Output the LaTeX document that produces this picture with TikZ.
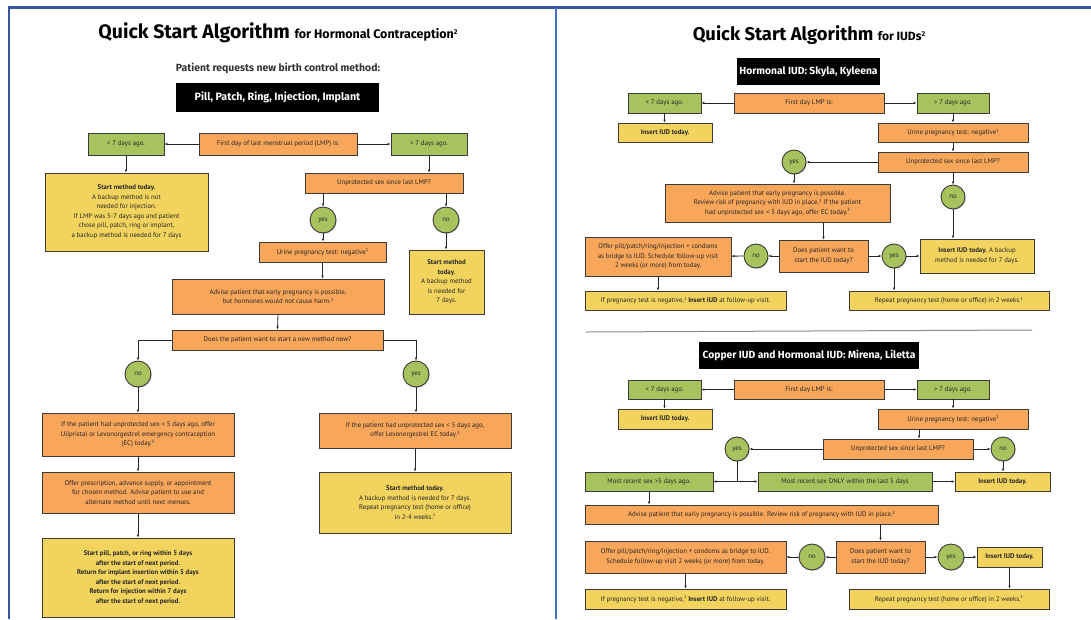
\documentclass[tikz,border=0pt]{standalone}
\usepackage{fontspec}
\setmainfont{PT Sans}
\newfontfamily\headfont{Fira Sans}
\usetikzlibrary{arrows.meta,shadows}
\definecolor{boxorange}{HTML}{F7A65A}
\definecolor{boxgreen}{HTML}{A8C25E}
\definecolor{boxyellow}{HTML}{F2D35E}
\definecolor{boxline}{HTML}{3A3A3A}
\definecolor{frameblue}{HTML}{3456A0}
\definecolor{divblue}{HTML}{4472C4}
\newcommand\fnote[1]{\raisebox{0.7ex}{\fontsize{4.5}{5}\selectfont #1}}
\tikzset{
  cell/.style={draw=boxline, line width=0.9pt, align=center, inner sep=1pt, text=black!85,
    font=\fontsize{6.8}{9.5}\selectfont,
    drop shadow={shadow xshift=0.8pt, shadow yshift=-0.8pt, fill=black!45}},
  obox/.style={cell, fill=boxorange},
  gbox/.style={cell, fill=boxgreen},
  ybox/.style={cell, fill=boxyellow},
  kbox/.style={fill=black, text=white, inner sep=0pt, font=\headfont\bfseries\fontsize{10.3}{12}\selectfont},
  yn/.style={cell, circle, fill=boxgreen, inner sep=0pt, minimum size=#1pt},
  yn/.default=24,
  wh/.style 2 args={minimum width=#1pt, minimum height=#2pt},
  arr/.style={-{Latex[length=3pt,width=2.6pt]}, line width=0.8pt, draw=black!85},
  link/.style={line width=0.8pt, draw=black!85},
}
\begin{document}
\begin{tikzpicture}[x=1pt,y=-1pt]
\useasboundingbox (0,0) rectangle (1091,619);
% page frame
\draw[line width=3pt, frameblue] (8,7) -- (1091,7);
\draw[line width=2.5pt, frameblue] (9,7) -- (9,619);
\draw[line width=1.2pt, divblue] (556,8) -- (556,619);

% hormonal contraception
\node (ttlA) at (278,33) {\headfont\bfseries\fontsize{19.5}{22}\selectfont Quick Start Algorithm \fontsize{12.5}{14}\selectfont for Hormonal Contraception\raisebox{0.6ex}{\fontsize{7}{7}\selectfont 2}};
\node[text=black!80] (req) at (278,68) {\headfont\bfseries\fontsize{10.4}{12}\selectfont Patient requests new birth control method:};
\node[kbox, wh={203}{29}, font=\headfont\bfseries\fontsize{10.7}{12}\selectfont] (pill) at (277.5,97.5) {Pill, Patch, Ring, Injection, Implant};
\node[gbox, wh={76}{22}] (lt) at (126,144) {< 7 days ago.};
\node[obox, wh={158}{22}] (lmp) at (278,144) {First day of last menstrual period (LMP) is:};
\node[gbox, wh={76}{22}] (gt) at (429,144) {> 7 days ago.};
\node[ybox, wh={163}{78}] (startA) at (126.5,212) {\textbf{Start method today.}\\A backup method is not\\needed for injection.\\If LMP was 5-7 days ago and patient\\chose pill, patch, ring or implant,\\a backup method is needed for 7 days};
\node[obox, wh={158}{20}] (unprot) at (384,183) {Unprotected sex since last LMP?};
\node[yn=26] (yesA) at (323,220) {yes};
\node[yn=26] (noA) at (446,220) {no};
\node[obox, wh={127}{20}] (urine) at (322.5,252) {Urine pregnancy test: negative\fnote{1}};
\node[obox, wh={212}{35}] (advise) at (278,296.5) {Advise patient that early pregnancy is possible,\\but hormones would not cause harm.\fnote{2}};
\node[ybox, wh={75}{64}] (startB) at (446.5,282) {\textbf{Start method}\\\textbf{today.}\\A backup method\\is needed for\\7 days.};
\node[obox, wh={211}{20}] (want) at (277.5,340) {Does the patient want to start a new method now?};
\node[yn=26] (noB) at (138,374) {no};
\node[yn=26] (yesB) at (416,374) {yes};
\node[obox, wh={192}{43}] (ecNo) at (138,434.5) {If the patient had unprotected sex < 5 days ago, offer\\Ulipristal or Levonorgestrel emergency contraception\\(EC) today.\fnote{3}};
\node[obox, wh={192}{35}] (ecYes) at (415,430.5) {If the patient had unprotected sex < 5 days ago,\\offer Levonorgestrel EC today.\fnote{3}};
\node[obox, wh={192}{41}] (offer) at (138,492.5) {Offer prescription, advance supply, or appointment\\for chosen method. Advise patient to use and\\alternate method until next menses.};
\node[ybox, wh={192}{79}, font=\bfseries\fontsize{6.8}{9.5}\selectfont] (nextP) at (138,577.5) {Start pill, patch, or ring within 5 days\\after the start of next period.\\Return for implant insertion within 5 days\\after the start of next period.\\Return for injection within 7 days\\after the start of next period.};
\node[ybox, wh={192}{61}] (startC) at (415,502.5) {\textbf{Start method today.}\\A backup method is needed for 7 days.\\Repeat pregnancy test (home or office)\\in 2-4 weeks.\fnote{1}};

\draw[arr] (lmp) -- (lt);
\draw[arr] (lmp) -- (gt);
\draw[arr] (lt.south) -- (lt.south |- startA.north);
\draw[arr] (gt.south) -- (gt.south |- unprot.north);
\draw[arr] (yesA |- unprot.south) -- (yesA);
\draw[arr] (noA |- unprot.south) -- (noA);
\draw[arr] (yesA) -- (yesA |- urine.north);
\draw[arr] (urine.south) -- (urine.south |- advise.north);
\draw[arr] (noA) -- (noA |- startB.north);
\draw[arr] (advise.south) -- (want.north);
\draw[arr] (want.west) -| (noB);
\draw[arr] (want.east) -| (yesB);
\draw[arr] (noB) -- (ecNo);
\draw[arr] (yesB) -- (yesB |- ecYes.north);
\draw[arr] (ecNo) -- (offer);
\draw[arr] (offer) -- (nextP);
\draw[arr] (ecYes) -- (startC);

% hormonal IUD
\node (ttlB) at (809,35) {\headfont\bfseries\fontsize{18.4}{21}\selectfont Quick Start Algorithm \fontsize{12}{14}\selectfont for IUDs\raisebox{0.6ex}{\fontsize{7}{7}\selectfont 2}};
\node[kbox, wh={143}{27}] (hHead) at (808.5,71.5) {Hormonal IUD: Skyla, Kyleena};
\node[gbox, wh={73}{20}] (hLt) at (664.5,103) {< 7 days ago.};
\node[obox, wh={150}{20}] (hLmp) at (809,103) {First day LMP is:};
\node[gbox, wh={72}{20}] (hGt) at (953,103) {> 7 days ago.};
\node[ybox, wh={94}{19}] (hIns) at (665,132.5) {\textbf{Insert IUD today.}};
\node[obox, wh={150}{19}] (hUrine) at (953,132.5) {Urine pregnancy test: negative\fnote{1}};
\node[obox, wh={150}{20}] (hUnprot) at (953,162) {Unprotected sex since last LMP?};
\node[yn] (hYes) at (794,162) {yes};
\node[yn] (hNo) at (953,197) {no};
\node[obox, wh={225}{38}] (hAdvise) at (777.5,203) {Advise patient that early pregnancy is possible.\\Review risk of pregnancy with IUD in place.\fnote{2} If the patient\\had unprotected sex < 5 days ago, offer EC today.\fnote{3}};
\node[obox, wh={89}{32}] (hWant) at (823.5,256) {Does patient want to\\start the IUD today?};
\node[yn] (hNo2) at (756,256) {no};
\node[yn] (hYes2) at (894,256) {yes};
\node[obox, wh={146}{39}] (hBridge) at (658,256.5) {Offer pill/patch/ring/injection + condoms\\as bridge to IUD. Schedule follow-up visit\\2 weeks (or more) from today.};
\node[ybox, wh={114}{34}] (hIns2) at (977,256) {\textbf{Insert IUD today.} A backup\\method is needed for 7 days.};
\node[ybox, wh={201}{19}] (hNeg) at (685.5,300.5) {If pregnancy test is negative,\fnote{1} \textbf{Insert IUD} at follow-up visit.};
\node[ybox, wh={200}{19}] (hRepeat) at (949,300.5) {Repeat pregnancy test (home or office) in 2 weeks.\fnote{1}};

\draw[arr] (hLmp) -- (hLt);
\draw[arr] (hLmp) -- (hGt);
\draw[arr] (hLt.south) -- (hLt.south |- hIns.north);
\draw[arr] (hGt) -- (hUrine);
\draw[arr] (hUrine) -- (hUnprot);
\draw[arr] (hUnprot) -- (hYes);
\draw[arr] (hUnprot) -- (hNo);
\draw[arr] (hYes) -- (hYes |- hAdvise.north);
\draw[arr] (hWant.north |- hAdvise.south) -- (hWant.north);
\draw[arr] (hWant) -- (hNo2);
\draw[arr] (hNo2) -- (hBridge);
\draw[arr] (hWant) -- (hYes2);
\draw[arr] (hYes2) -- (hIns2);
\draw[arr] (hNo) -- (hNo |- hIns2.north);
\draw[arr] (hYes2) -- (hYes2 |- hRepeat.north);
\draw[arr] (hBridge) -- (hBridge |- hNeg.north);

\draw[line width=1pt, black!45] (586,332) -- (1032,330);

% copper and hormonal IUD
\node[kbox, wh={220}{27}] (cHead) at (809,355.5) {Copper IUD and Hormonal IUD: Mirena, Liletta};
\node[gbox, wh={73}{19}] (cLt) at (664.5,389.5) {< 7 days ago.};
\node[obox, wh={150}{19}] (cLmp) at (809,389.5) {First day LMP is:};
\node[gbox, wh={72}{19}] (cGt) at (953,389.5) {> 7 days ago.};
\node[ybox, wh={94}{20}] (cIns) at (665,419) {\textbf{Insert IUD today.}};
\node[obox, wh={150}{20}] (cUrine) at (953,419) {Urine pregnancy test: negative\fnote{1}};
\node[obox, wh={150}{20}] (cUnprot) at (898,449) {Unprotected sex since last LMP?};
\node[yn] (cYes) at (737,449) {yes};
\node[yn] (cNo) at (1003,449) {no};
\node[gbox, wh={128}{19}] (cOld) at (649,481.5) {Most recent sex >5 days ago.};
\node[gbox, wh={174}{19}] (cRecent) at (845,481.5) {Most recent sex ONLY within the last 5 days};
\node[ybox, wh={95}{19}] (cIns2) at (1002.5,481.5) {\textbf{Insert IUD today.}};
\node[obox, wh={353}{19}] (cAdvise) at (761.5,514.5) {Advise patient that early pregnancy is possible. Review risk of pregnancy with IUD in place.\fnote{2}};
\node[obox, wh={89}{32}] (cWant) at (880.5,557) {Does patient want to\\start the IUD today?};
\node[yn=26] (cNo2) at (812,557) {no};
\node[yn=26] (cYes2) at (951,557) {yes};
\node[obox, wh={201}{32}] (cBridge) at (685.5,557) {Offer pill/patch/ring/injection + condoms as bridge to IUD.\\Schedule follow-up visit 2 weeks (or more) from today.};
\node[ybox, wh={65}{20}] (cIns3) at (1009.5,557) {\textbf{Insert IUD today.}};
\node[ybox, wh={201}{20}] (cNeg) at (685.5,599) {If pregnancy test is negative,\fnote{1} \textbf{Insert IUD} at follow-up visit.};
\node[ybox, wh={200}{20}] (cRepeat) at (949,599) {Repeat pregnancy test (home or office) in 2 weeks.\fnote{1}};

\draw[arr] (cLmp) -- (cLt);
\draw[arr] (cLmp) -- (cGt);
\draw[arr] (cLt.south) -- (cLt.south |- cIns.north);
\draw[arr] (cGt) -- (cUrine);
\draw[arr] ([xshift=-34pt]cUrine.south) -- ([xshift=21pt]cUnprot.north);
\draw[arr] (cUnprot) -- (cYes);
\draw[arr] (cUnprot) -- (cNo);
\coordinate (cSplit) at (cYes |- cOld);
\draw[link] (cYes) -- (cSplit);
\draw[arr] (cSplit) -- (cOld);
\draw[arr] (cSplit) -- (cRecent);
\draw[arr] (cRecent) -- (cIns2);
\draw[arr] (cNo) -- (cNo |- cIns2.north);
\draw[arr] (cOld) -- (cOld |- cAdvise.north);
\draw[arr] (cWant.north |- cAdvise.south) -- (cWant.north);
\draw[arr] (cWant) -- (cNo2);
\draw[arr] (cNo2) -- (cBridge);
\draw[arr] (cWant) -- (cYes2);
\draw[arr] (cYes2) -- (cIns3);
\draw[arr] (cIns3) -- (cIns3 |- cRepeat.north);
\draw[arr] (cBridge) -- (cBridge |- cNeg.north);
\end{tikzpicture}
\end{document}
